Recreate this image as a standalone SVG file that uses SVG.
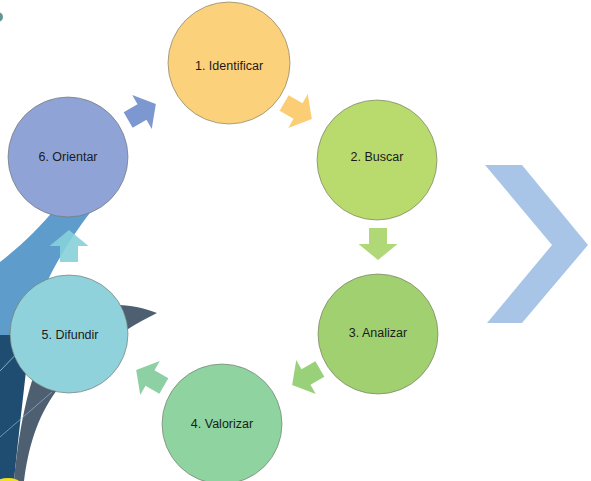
<svg xmlns="http://www.w3.org/2000/svg" width="591" height="481" viewBox="0 0 591 481">
  <style>
    .node circle { stroke: #6f6f66; stroke-opacity: 0.6; stroke-width: 1; }
    .node text { font-family: "Liberation Sans", Arial, sans-serif; font-size: 12.5px; fill: #1b1b1b; text-anchor: middle; dominant-baseline: central; }
    .arrow { opacity: 0.9; }
  </style>
  <defs>
    <!-- block arrow pointing right, centred on the origin -->
    <path id="blockArrow" d="M -16,-9 L 0,-9 L 0,-19.5 L 16,0 L 0,19.5 L 0,9 L -16,9 Z"/>
  </defs>

  <rect width="591" height="481" fill="#ffffff"/>

  <!-- decorative background shapes -->
  <g id="decor">
    <path d="M 485,165 L 522,165 L 588,245 L 522,323 L 487,323 L 552,245 Z" fill="#a8c5e8"/>
    <circle cx="-2" cy="17" r="5" fill="#3b7a7c" opacity="0.8"/>
    <path d="M 58,205 C 40,228 18,248 0,262 L 0,365 L 22,365 C 28,320 45,270 96,205 Z" fill="#5e9ccb"/>
    <path d="M 0,335 L 30,335 C 24,390 18,440 14,481 L 0,481 Z" fill="#1f4d72"/>
    <path d="M 157,313 C 140,306 110,300 80,310 C 45,330 24,380 14,481 L 24,481 C 28,450 36,418 57,390 C 80,360 115,334 157,313 Z" fill="#4d5f70"/>
    <path d="M 0,371 L 22,348" stroke="#b9d8ee" stroke-width="1" opacity="0.7"/>
    <path d="M 0,437 L 52,392" stroke="#9fc6e3" stroke-width="1" opacity="0.6"/>
    <ellipse cx="8" cy="483" rx="12" ry="5" fill="#f2e21a"/>
  </g>

  <!-- connectors -->
  <g id="connectors">
    <use href="#blockArrow" class="arrow" fill="#6f8dcc" transform="translate(142,112) rotate(-30)"/>
    <use href="#blockArrow" class="arrow" fill="#fbc865" transform="translate(298,111) rotate(30)"/>
    <use href="#blockArrow" class="arrow" fill="#a8d468" transform="translate(378,244) rotate(90)"/>
    <use href="#blockArrow" class="arrow" fill="#8ecb6b" transform="translate(306,377) rotate(150)"/>
    <use href="#blockArrow" class="arrow" fill="#7fcb99" transform="translate(150,378) rotate(210)"/>
    <use href="#blockArrow" class="arrow" fill="#86d0d9" transform="translate(69,246) rotate(270)"/>
  </g>

  <g id="node1" class="node">
    <circle cx="229" cy="63" r="61" fill="#fbd27b"/>
    <text x="229" y="66">1. Identificar</text>
  </g>
  <g id="node2" class="node">
    <circle cx="377" cy="160" r="60" fill="#b9da6d"/>
    <text x="377" y="157">2. Buscar</text>
  </g>
  <g id="node3" class="node">
    <circle cx="378" cy="334" r="60" fill="#a1d070"/>
    <text x="378" y="333">3. Analizar</text>
  </g>
  <g id="node4" class="node">
    <circle cx="222" cy="424" r="60" fill="#8fd3a1"/>
    <text x="222" y="424">4. Valorizar</text>
  </g>
  <g id="node5" class="node">
    <circle cx="69" cy="334" r="59" fill="#90d2dc"/>
    <text x="70" y="335">5. Difundir</text>
  </g>
  <g id="node6" class="node">
    <circle cx="68" cy="157" r="60" fill="#8fa3d7"/>
    <text x="68" y="157">6. Orientar</text>
  </g>
</svg>
